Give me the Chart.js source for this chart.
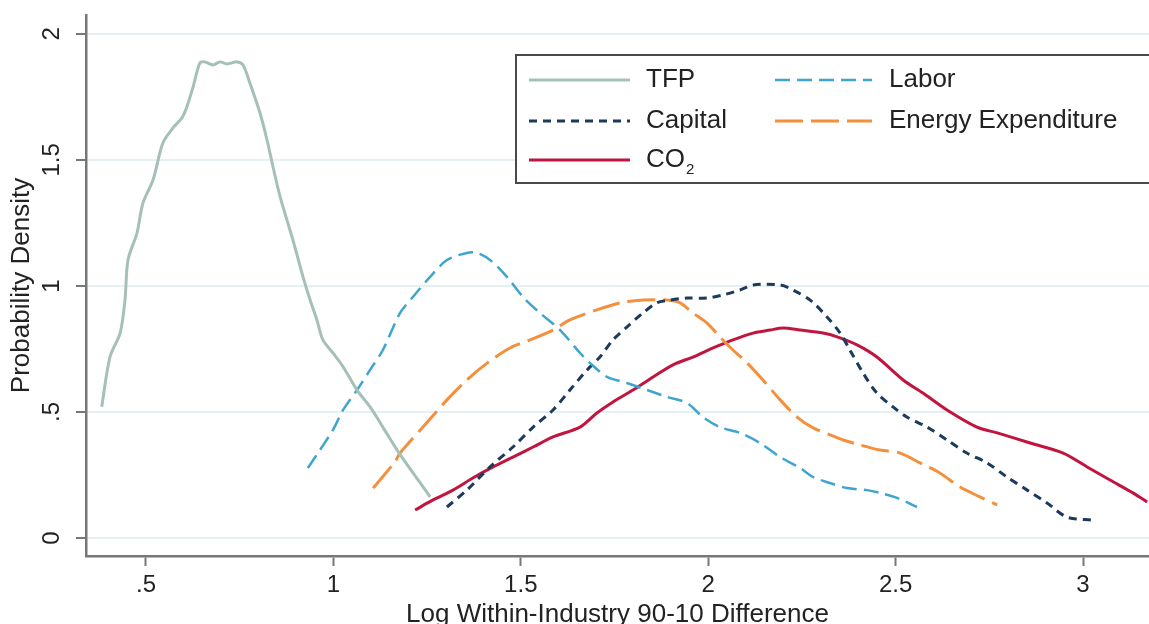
<!DOCTYPE html>
<html>
<head>
<meta charset="utf-8">
<script src="https://cdn.jsdelivr.net/npm/chart.js@4.4.1/dist/chart.umd.min.js"></script>
<style>
  html, body { margin: 0; padding: 0; background: #fff; overflow: hidden; }
  #wrap { width: 1149px; height: 630px; }
</style>
</head>
<body>
<div id="wrap"><canvas id="chart"></canvas></div>
<script>
// tick values and labels
const xTickValues = [0.5, 1, 1.5, 2, 2.5, 3];
const xTickLabels = ['.5', '1', '1.5', '2', '2.5', '3'];
const yTickValues = [0, 0.5, 1, 1.5, 2];
const yTickLabels = ['0', '.5', '1', '1.5', '2'];

// series
const tfpX = [0.382, 0.404, 0.431, 0.444, 0.452, 0.476, 0.492, 0.519, 0.545, 0.572, 0.596, 0.609, 0.625, 0.644, 0.657, 0.679, 0.697, 0.716, 0.743, 0.759, 0.777, 0.804, 0.823, 0.839, 0.858, 0.876, 0.892, 0.919, 0.938, 0.956, 0.972, 0.999, 1.026, 1.063, 1.098, 1.132, 1.170, 1.258];
const tfpY = [0.521, 0.719, 0.813, 0.944, 1.103, 1.210, 1.329, 1.421, 1.567, 1.627, 1.667, 1.710, 1.786, 1.885, 1.889, 1.877, 1.889, 1.881, 1.889, 1.877, 1.806, 1.687, 1.579, 1.472, 1.353, 1.262, 1.183, 1.036, 0.944, 0.865, 0.786, 0.734, 0.679, 0.587, 0.520, 0.440, 0.349, 0.163];

const laborX = [0.932, 0.964, 0.999, 1.026, 1.063, 1.098, 1.132, 1.178, 1.212, 1.258, 1.303, 1.356, 1.383, 1.418, 1.463, 1.506, 1.551, 1.605, 1.658, 1.685, 1.730, 1.783, 1.837, 1.890, 1.943, 1.986, 2.031, 2.085, 2.138, 2.192, 2.245, 2.280, 2.325, 2.370, 2.424, 2.458, 2.504, 2.557];
const laborY = [0.278, 0.349, 0.429, 0.508, 0.587, 0.667, 0.746, 0.893, 0.956, 1.036, 1.103, 1.131, 1.131, 1.103, 1.036, 0.956, 0.893, 0.825, 0.734, 0.694, 0.639, 0.615, 0.587, 0.560, 0.536, 0.480, 0.440, 0.417, 0.377, 0.321, 0.278, 0.242, 0.218, 0.198, 0.190, 0.179, 0.159, 0.123];

const capitalX = [1.303, 1.356, 1.418, 1.479, 1.533, 1.586, 1.631, 1.677, 1.711, 1.746, 1.783, 1.826, 1.863, 1.898, 1.943, 1.997, 2.039, 2.085, 2.120, 2.192, 2.226, 2.272, 2.317, 2.352, 2.378, 2.413, 2.450, 2.493, 2.530, 2.584, 2.637, 2.690, 2.744, 2.797, 2.851, 2.904, 2.957, 3.027];
const capitalY = [0.123, 0.190, 0.282, 0.361, 0.440, 0.508, 0.587, 0.667, 0.718, 0.786, 0.837, 0.893, 0.933, 0.944, 0.952, 0.952, 0.964, 0.984, 1.004, 1.004, 0.984, 0.944, 0.877, 0.813, 0.746, 0.655, 0.575, 0.520, 0.480, 0.440, 0.389, 0.337, 0.298, 0.242, 0.190, 0.139, 0.083, 0.071];

const energyX = [1.106, 1.164, 1.178, 1.239, 1.303, 1.356, 1.410, 1.471, 1.525, 1.586, 1.631, 1.703, 1.765, 1.826, 1.890, 1.925, 1.959, 1.997, 2.031, 2.066, 2.104, 2.146, 2.192, 2.237, 2.280, 2.325, 2.360, 2.405, 2.458, 2.512, 2.565, 2.618, 2.672, 2.725, 2.771];
const energyY = [0.198, 0.302, 0.337, 0.440, 0.548, 0.627, 0.694, 0.754, 0.786, 0.825, 0.865, 0.905, 0.933, 0.944, 0.944, 0.933, 0.893, 0.853, 0.798, 0.746, 0.694, 0.627, 0.548, 0.480, 0.437, 0.409, 0.389, 0.369, 0.349, 0.337, 0.298, 0.258, 0.202, 0.163, 0.131];

const co2X = [1.218, 1.266, 1.319, 1.372, 1.426, 1.479, 1.533, 1.586, 1.658, 1.703, 1.746, 1.799, 1.853, 1.906, 1.959, 2.013, 2.066, 2.120, 2.165, 2.200, 2.245, 2.306, 2.344, 2.397, 2.450, 2.520, 2.573, 2.637, 2.717, 2.771, 2.859, 2.947, 3.011, 3.072, 3.133, 3.171];
const co2Y = [0.111, 0.151, 0.190, 0.238, 0.282, 0.321, 0.361, 0.401, 0.440, 0.496, 0.540, 0.587, 0.639, 0.687, 0.718, 0.754, 0.786, 0.813, 0.825, 0.833, 0.825, 0.813, 0.798, 0.766, 0.718, 0.627, 0.575, 0.508, 0.440, 0.417, 0.377, 0.337, 0.282, 0.230, 0.179, 0.143];

const pts = (xs, ys) => xs.map((x, i) => ({ x: x, y: ys[i] }));

const FONT = '"Liberation Sans", Arial, Helvetica, sans-serif';
const TEXT = '#222';
const AXIS = '#777';

// stata-like legend box, two columns
const legendBox = {
  id: 'legendBox',
  afterDraw(chart) {
    const ctx = chart.ctx;
    ctx.save();
    ctx.fillStyle = '#fff';
    ctx.strokeStyle = '#4a4a4a';
    ctx.lineWidth = 2;
    ctx.fillRect(516, 55, 640, 128);
    ctx.strokeRect(516, 55, 640, 128);

    // row / column slots
    const slots = [
      [529, 630, 646, 80],   // TFP
      [775, 872, 889, 80],   // Labor
      [529, 630, 646, 121],  // Capital
      [775, 872, 889, 121],  // Energy
      [529, 630, 646, 160]   // CO2
    ];
    chart.data.datasets.forEach((ds, i) => {
      const [x0, x1, tx, y] = slots[i];
      ctx.strokeStyle = ds.borderColor;
      ctx.lineWidth = ds.borderWidth;
      ctx.setLineDash(ds.borderDash || []);
      ctx.beginPath();
      ctx.moveTo(x0, y);
      ctx.lineTo(x1, y);
      ctx.stroke();
      ctx.setLineDash([]);

      ctx.fillStyle = TEXT;
      ctx.textBaseline = 'middle';
      ctx.textAlign = 'left';
      ctx.font = '26px ' + FONT;
      if (ds.label === 'CO₂') {
        ctx.fillText('CO', tx, y);
        const w = ctx.measureText('CO').width;
        ctx.font = '15px ' + FONT;
        ctx.fillText('2', tx + w + 1, y + 10);
      } else {
        ctx.fillText(ds.label, tx, y);
      }
    });
    ctx.restore();
  }
};

new Chart(document.getElementById('chart'), {
  type: 'line',
  data: {
    datasets: [
      { label: 'TFP', data: pts(tfpX, tfpY), borderColor: '#a5c0b9', borderWidth: 3 },
      { label: 'Labor', data: pts(laborX, laborY), borderColor: '#3da5cf', borderWidth: 2.5, borderDash: [15, 7] },
      { label: 'Capital', data: pts(capitalX, capitalY), borderColor: '#1c3a5c', borderWidth: 3, borderDash: [8, 6] },
      { label: 'Energy Expenditure', data: pts(energyX, energyY), borderColor: '#f4903c', borderWidth: 3, borderDash: [28, 8] },
      { label: 'CO₂', data: pts(co2X, co2Y), borderColor: '#c1143f', borderWidth: 3 }
    ]
  },
  options: {
    responsive: true,
    maintainAspectRatio: false,
    animation: false,
    layout: { padding: { top: 15, right: 0, left: 0, bottom: 0 } },
    elements: {
      point: { radius: 0 },
      line: { tension: 0.3, borderCapStyle: 'butt', fill: false }
    },
    plugins: {
      legend: { display: false },
      tooltip: { enabled: false }
    },
    scales: {
      x: {
        type: 'linear',
        min: 0.34,
        max: 3.176,
        afterBuildTicks: (scale) => { scale.ticks = xTickValues.map(v => ({ value: v })); },
        afterFit: (scale) => { scale.height = 74; scale.paddingLeft = 0; scale.paddingRight = 0; },
        ticks: {
          callback: (v, i) => xTickLabels[i],
          font: { family: FONT, size: 24 },
          color: TEXT,
          padding: 5,
          maxRotation: 0
        },
        grid: { drawOnChartArea: false, drawTicks: true, tickLength: 10, tickColor: AXIS, tickWidth: 2 },
        border: { color: AXIS, width: 2.5 },
        title: {
          display: true,
          text: 'Log Within-Industry 90-10 Difference',
          font: { family: FONT, size: 26 },
          color: TEXT,
          padding: { top: 0, bottom: 0 }
        }
      },
      y: {
        type: 'linear',
        min: -0.0714,
        max: 2.075,
        afterBuildTicks: (scale) => { scale.ticks = yTickValues.map(v => ({ value: v })); },
        afterFit: (scale) => { scale.width = 86; scale.paddingTop = 0; scale.paddingBottom = 0; },
        ticks: {
          callback: (v, i) => yTickLabels[i],
          font: { family: FONT, size: 24 },
          color: TEXT,
          padding: 7,
          minRotation: 90,
          maxRotation: 90,
          crossAlign: 'center'
        },
        grid: { color: '#e6eff1', lineWidth: 2, drawTicks: true, tickLength: 10, tickColor: AXIS, tickWidth: 2 },
        border: { color: AXIS, width: 2.5 },
        title: {
          display: true,
          text: 'Probability Density',
          font: { family: FONT, size: 26 },
          color: TEXT,
          padding: { top: 6, bottom: 0 }
        }
      }
    }
  },
  plugins: [legendBox]
});
</script>
</body>
</html>
